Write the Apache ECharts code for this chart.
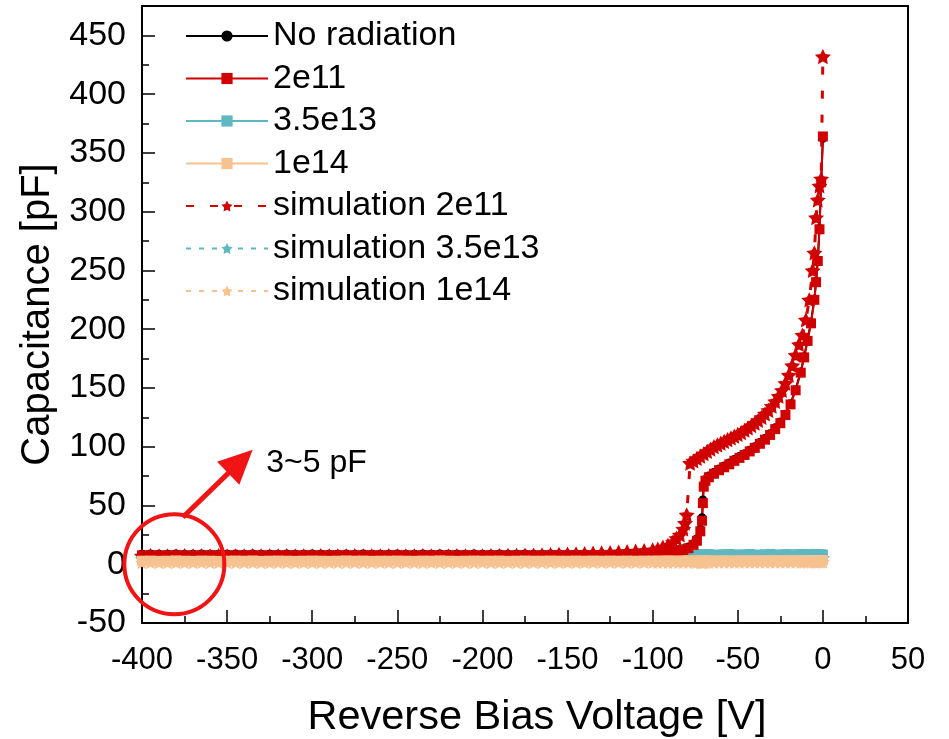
<!DOCTYPE html>
<html>
<head>
<meta charset="utf-8">
<script src="https://cdn.jsdelivr.net/npm/echarts@6/dist/echarts.min.js"></script>
<style>html,body{margin:0;padding:0;background:#fff}#c{width:949px;height:739px}</style>
</head>
<body>
<div id="c"></div>
<script>
// ---- data ----
var seriesNames = ['No radiation','2e11','3.5e13','1e14','simulation 2e11','simulation 3.5e13','simulation 1e14'];
var xTicks = [-400,-350,-300,-250,-200,-150,-100,-50,0,50];
var yTicks = [-50,0,50,100,150,200,250,300,350,400,450];

// measured voltages
var vMeas = [-400,-395,-390,-385,-380,-375,-370,-365,-360,-355,-350,-345,-340,-335,-330,-325,-320,-315,-310,-305,
  -300,-295,-290,-285,-280,-275,-270,-265,-260,-255,-250,-245,-240,-235,-230,-225,-220,-215,-210,-205,
  -200,-195,-190,-185,-180,-175,-170,-165,-160,-155,-150,-145,-140,-135,-130,-125,-120,-115,-110,-105,
  -100,-97,-94,-91,-88,-85,-82,-79,-76,-74,-72,-71,-70.5,-70,-69,-67,-64,-61,-58,-55,-52,-49,-46,-43,-40,
  -37,-34,-31,-28,-25,-22,-19,-16,-13,-11,-9,-7,-5,-4,-3,-2,-1,0];

var cNoRad = [9.0,9.1,8.9,9.0,9.2,9.0,8.9,9.1,9.0,8.9, 9.0,9.2,9.0,9.1,8.9,9.0,9.0,9.1,8.9,9.0,
  9.1,9.0,8.9,9.0,9.2,9.0,9.1,8.9,9.0,9.0, 9.1,9.0,8.9,9.1,9.0,9.2,9.0,8.9,9.0,9.1,
  9.0,9.0,9.1,8.9,9.0,9.1,9.0,9.0,9.1,9.1, 9.1,9.1,9.2,9.2,9.3,9.4,9.5,9.6,9.7,9.8,
  10.0,10.3,10.8,11.3,12,12.8,13.6,15,17.8,22,30,40,55,68,72.5,75.5,78.5,81.5,84,86.5,89.5,92,94.5,97.5,100.5,
  104,107.5,111.5,116.5,121.5,128,137,149,164,177,191,206,226,241,259,286,326,362];

var c2e11 = [7.5,7.6,7.4,7.5,7.6,7.5,7.4,7.5,7.6,7.5, 7.4,7.5,7.6,7.5,7.5,7.4,7.6,7.5,7.5,7.6,
  7.5,7.4,7.5,7.6,7.5,7.5,7.4,7.6,7.5,7.5, 7.6,7.5,7.4,7.5,7.6,7.5,7.5,7.4,7.6,7.5,
  7.5,7.6,7.5,7.4,7.5,7.6,7.5,7.5,7.6,7.6, 7.6,7.6,7.7,7.7,7.8,7.9,8.0,8.1,8.2,8.4,
  8.6,8.9,9.3,9.8,10.4,11.1,12.1,13.6,16.5,20,28,37,52,66,71,74,77,80,82.5,85,88,90.5,93,96,99,
  102.5,106,110,115,120,127,136,148,163,176,190,205,225,240,258,285,325,364];

var c35e13 = [7.4,7.7,7.2,7.6,8.0,7.3,7.5,7.8,7.2,7.6, 7.9,7.4,7.2,7.7,7.5,8.0,7.3,7.6,7.8,7.2,
  7.5,7.9,7.4,7.7,7.2,7.6,8.0,7.3,7.5,7.8, 7.4,7.2,7.7,7.9,7.5,7.3,7.6,8.0,7.4,7.7,
  7.2,7.6,7.8,7.4,8.0,7.5,7.3,7.7,7.9,7.6, 7.4,7.8,8.0,7.5,7.7,8.1,7.6,7.9,8.2,7.8,
  8.0,8.3,7.9,8.2,8.5,8.0,8.4,8.1,8.6,8.2,8.0,8.4,8.2,7.9,8.3,8.6,8.2,8.0,8.5,8.7,8.3,8.1,8.4,8.7,8.2,
  8.0,8.5,8.8,8.3,8.1,8.6,8.4,8.2,8.7,8.4,8.1,8.5,8.8,8.3,8.2,8.6,8.4,8.2];

var c1e14 = [3.0,3.1,2.9,3.0,3.2,3.0,2.9,3.1,3.0,2.9, 3.0,3.1,3.0,3.2,2.9,3.0,3.1,3.0,2.9,3.0,
  3.1,3.0,2.9,3.0,3.2,3.0,3.1,2.9,3.0,3.0, 3.1,3.0,2.9,3.1,3.0,3.2,3.0,2.9,3.0,3.1,
  3.0,3.0,3.1,2.9,3.0,3.1,3.0,3.0,3.1,3.0, 3.0,3.1,3.0,3.1,3.0,3.1,3.0,3.1,3.0,3.1,
  3.1,3.0,3.1,3.2,3.1,3.0,3.2,3.1,3.2,3.1,3.2,3.1,3.2,3.1,3.2,3.3,3.1,3.2,3.3,3.2,3.1,3.3,3.2,3.3,3.2,
  3.3,3.2,3.4,3.3,3.2,3.4,3.3,3.4,3.3,3.4,3.3,3.4,3.5,3.4,3.4,3.5,3.4,3.5];

// simulation voltages (2e11)
var vSim = [-400,-395,-390,-385,-380,-375,-370,-365,-360,-355,-350,-345,-340,-335,-330,-325,-320,-315,-310,-305,
  -300,-295,-290,-285,-280,-275,-270,-265,-260,-255,-250,-245,-240,-235,-230,-225,-220,-215,-210,-205,
  -200,-195,-190,-185,-180,-175,-170,-165,-160,-155,-150,-145,-140,-135,-130,-125,-120,-115,-110,-105,
  -100,-97,-94,-91,-88,-86,-84,-82,-81,-80,
  -78,-76,-74,-72,-70,-68,-66,-64,-62,-60,-58,-56,-54,-52,-50,-48,-46,-44,-42,-40,-38,-36,-34,-32,-30,
  -28,-26,-24,-22,-20,-18,-16,-14,-12,-10,-8,-6,-5,-4,-3,-2,-1,0];

var cSim2e11 = [7.2,7.3,7.1,7.2,7.2,7.3,7.1,7.2,7.2,7.3, 7.1,7.2,7.2,7.3,7.1,7.2,7.2,7.3,7.1,7.2,
  7.2,7.3,7.1,7.2,7.2,7.3,7.1,7.2,7.2,7.3, 7.1,7.2,7.2,7.3,7.1,7.2,7.2,7.3,7.1,7.2,
  7.2,7.3,7.4,7.5,7.6,7.7,7.8,8.0,8.2,8.4, 8.6,8.8,9.1,9.4,9.7,10.0,10.3,10.7,11.1,11.6,
  12.2,12.8,14.5,16,19,22,25,30,35,42,
  86,88,90,92,94,96,98,100,101.5,103,104.5,106,107.5,109,110.5,112,114,116,118,120,122.5,125,128,131,134.5,
  138.5,143,148,154,161,169,178,187,195,208,225,250,265,295,310,322,328,432];

var cSim35e13 = [4.5,4.6,4.4,4.5,4.6,4.5,4.4,4.5,4.6,4.5, 4.4,4.5,4.6,4.5,4.5,4.4,4.6,4.5,4.5,4.6,
  4.5,4.4,4.5,4.6,4.5,4.5,4.4,4.6,4.5,4.5, 4.6,4.5,4.4,4.5,4.6,4.5,4.5,4.4,4.6,4.5,
  4.5,4.6,4.5,4.4,4.5,4.6,4.5,4.5,4.6,4.5, 4.5,4.6,4.5,4.6,4.5,4.6,4.5,4.6,4.5,4.6,
  4.6,4.6,4.7,4.6,4.7,4.6,4.7,4.7,4.8,4.7,4.8,4.8,4.8,4.8,4.9,4.8,4.9,4.9,4.9,5.0,4.9,5.0,5.0,5.0,5.0,
  5.1,5.0,5.1,5.1,5.1,5.2,5.1,5.2,5.2,5.2,5.3,5.2,5.3,5.3,5.3,5.4,5.4,5.4];

var cSim1e14 = [1.5,1.6,1.5,1.5,1.6,1.5,1.5,1.6,1.5,1.5, 1.6,1.5,1.5,1.6,1.5,1.5,1.6,1.5,1.5,1.6,
  1.5,1.5,1.6,1.5,1.5,1.6,1.5,1.5,1.6,1.5, 1.5,1.6,1.5,1.5,1.6,1.5,1.5,1.6,1.5,1.5,
  1.6,1.5,1.5,1.6,1.5,1.5,1.6,1.5,1.5,1.6, 1.6,1.6,1.6,1.6,1.6,1.6,1.6,1.6,1.6,1.6,
  1.6,1.6,1.7,1.6,1.7,1.6,1.7,1.7,1.7,1.7,1.7,1.7,1.7,1.7,1.7,1.7,1.7,1.8,1.7,1.8,1.7,1.8,1.8,1.8,1.8,
  1.8,1.8,1.8,1.8,1.9,1.8,1.9,1.9,1.9,1.9,1.9,1.9,2.0,1.9,2.0,2.0,2.0,2.0];

function pairs(xs, ys){ var out=[]; for (var i=0;i<xs.length;i++) out.push([xs[i], ys[i]]); return out; }

var STAR = 'path://M50,0 L64.69,29.77 L97.55,34.55 L73.78,57.73 L79.39,90.45 L50,75 L20.61,90.45 L26.22,57.73 L2.45,34.55 L35.31,29.77 Z';
var RED = '#D10000', TEAL = '#5DB8C1', PEACH = '#F6C290', BLACK = '#000000';
var FONT = "'Liberation Sans', Arial, sans-serif";

var chart = echarts.init(document.getElementById('c'), null, {renderer:'canvas'});

function measSeries(name, color, sym, size, data, z){
  return {name:name, type:'line', data:data, symbol:sym, symbolSize:size, showSymbol:true, z:z,
    lineStyle:{color:color, width:2}, itemStyle:{color:color}, animation:false, silent:true};
}
function simSeries(name, color, dash, width, size, data, z){
  return {name:name, type:'line', data:data, symbol:STAR, symbolSize:size, symbolKeepAspect:true, z:z,
    lineStyle:{color:color, width:width, type:dash}, itemStyle:{color:color}, animation:false, silent:true};
}

var option = {
  backgroundColor:'#fff',
  animation:false,
  grid:{left:142, right:41, top:6, bottom:116, outerBoundsMode:'none', containLabel:false,
        show:true, borderColor:'#000', borderWidth:2, backgroundColor:'transparent'},
  legend:{
    show:true, orient:'vertical', left:185, top:19, padding:0, itemWidth:82, itemHeight:14, itemGap:8.5,
    data:seriesNames,
    textStyle:{fontFamily:FONT, fontSize:34, color:'#000', lineHeight:34}
  },
  xAxis:{
    type:'value', min:xTicks[0], max:xTicks[xTicks.length-1], interval:50,
    name:'Reverse Bias Voltage [V]', nameLocation:'middle', nameGap:74,
    nameTextStyle:{fontFamily:FONT, fontSize:41.5, color:'#000', padding:[0,0,0,24]},
    axisLine:{show:true, onZero:false, lineStyle:{color:'#000', width:1.5}},
    axisTick:{show:true, inside:true, length:13, lineStyle:{color:'#000', width:1.5}},
    minorTick:{show:true, splitNumber:2, length:7, lineStyle:{color:'#000', width:1.5}},
    splitLine:{show:false},
    axisLabel:{fontFamily:FONT, fontSize:31, color:'#000', margin:22}
  },
  yAxis:{
    type:'value', min:yTicks[0], max:475, interval:50,
    name:'Capacitance [pF]', nameLocation:'middle', nameGap:84, nameRotate:90,
    nameTextStyle:{fontFamily:FONT, fontSize:40, color:'#000'},
    axisLine:{show:true, onZero:false, lineStyle:{color:'#000', width:1.5}},
    axisTick:{show:true, inside:true, length:13, lineStyle:{color:'#000', width:1.5}},
    minorTick:{show:true, splitNumber:2, length:7, lineStyle:{color:'#000', width:1.5}},
    splitLine:{show:false},
    axisLabel:{fontFamily:FONT, fontSize:34, color:'#000', margin:16, showMaxLabel:false}
  },
  series:[
    measSeries(seriesNames[2], TEAL, 'rect', 10, pairs(vMeas, c35e13), 2),
    simSeries(seriesNames[5], TEAL, [5,8], 2, 14, pairs(vMeas, cSim35e13), 2),
    measSeries(seriesNames[0], BLACK, 'circle', 8, pairs(vMeas, cNoRad), 3),
    measSeries(seriesNames[1], RED, 'rect', 10, pairs(vMeas, c2e11), 3),
    simSeries(seriesNames[4], RED, [8,16], 3, 16, pairs(vSim, cSim2e11), 4),
    measSeries(seriesNames[3], PEACH, 'rect', 10, pairs(vMeas, c1e14), 5),
    simSeries(seriesNames[6], PEACH, [5,8], 2, 14, pairs(vMeas, cSim1e14), 5)
  ]
};
chart.setOption(option);

// annotation anchored in data coordinates
function px(v, c){ return chart.convertToPixel({xAxisIndex:0, yAxisIndex:0}, [v, c]); }
var ctr = px(-381, 0);
var aFrom = px(-376, 40);
var aTip = px(-335, 97.5);
var tPos = px(-327, 86);
var dx = aTip[0]-aFrom[0], dy = aTip[1]-aFrom[1], L = Math.sqrt(dx*dx+dy*dy);
var ux = dx/L, uy = dy/L, hl = 34, hw = 16;
var base = [aTip[0]-ux*hl, aTip[1]-uy*hl];
chart.setOption({
  graphic:[
    {type:'circle', shape:{cx:ctr[0], cy:ctr[1], r:50}, style:{fill:'none', stroke:'#F01414', lineWidth:4}, z:100, silent:true},
    {type:'line', shape:{x1:aFrom[0], y1:aFrom[1], x2:base[0]+ux*2, y2:base[1]+uy*2}, style:{stroke:'#F01414', lineWidth:5}, z:100, silent:true},
    {type:'polygon', shape:{points:[aTip, [base[0]-uy*hw, base[1]+ux*hw], [base[0]+uy*hw, base[1]-ux*hw]]}, style:{fill:'#F01414'}, z:100, silent:true},
    {type:'text', x:tPos[0], y:tPos[1], style:{text:'3~5 pF', font:"32px 'Liberation Sans', Arial, sans-serif", fill:'#000', verticalAlign:'middle', align:'left'}, z:100, silent:true}
  ]
});
</script>
</body>
</html>
